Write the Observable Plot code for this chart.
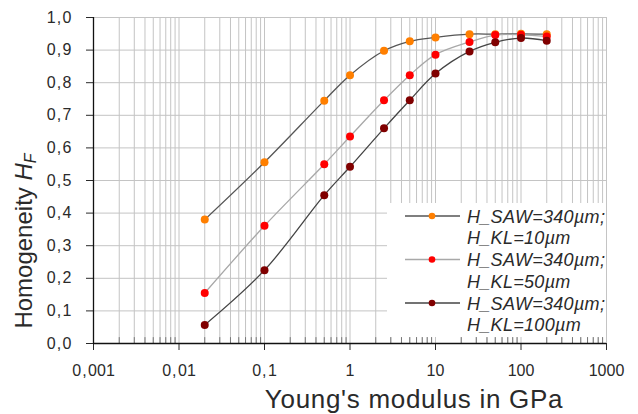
<!DOCTYPE html>
<html><head><meta charset="utf-8">
<script src="https://cdn.jsdelivr.net/npm/d3@7"></script>
<script src="https://cdn.jsdelivr.net/npm/@observablehq/plot@0.6"></script>
<style>
body{margin:0;background:#fff;font-family:"Liberation Sans",Arial,sans-serif}
#wrap{position:relative;width:638px;height:414px;overflow:hidden}
#legend{position:absolute;left:387px;top:203px;width:219px;height:134px;background:#fff}
</style></head><body><div id="wrap"><div id="legend"></div></div>
<script>
// Data
const youngModulus = [0.02, 0.1, 0.5, 1, 2.5, 5, 10, 25, 50, 100, 200];
const hKL10  = [0.380, 0.556, 0.745, 0.823, 0.898, 0.927, 0.939, 0.949, 0.949, 0.950, 0.949];
const hKL50  = [0.155, 0.361, 0.550, 0.635, 0.746, 0.823, 0.886, 0.925, 0.946, 0.947, 0.942];
const hKL100 = [0.057, 0.225, 0.455, 0.542, 0.660, 0.746, 0.828, 0.896, 0.924, 0.937, 0.929];
const seriesLabels = [
  ["H_SAW=340µm;", "H_KL=10µm"],
  ["H_SAW=340µm;", "H_KL=50µm"],
  ["H_SAW=340µm;", "H_KL=100µm"]
];
const markerColors = ["#ff7f00", "#ff0000", "#800000"];
const lineColors = ["#555555", "#a8a8a8", "#444444"];
const xTicks = [0.001, 0.01, 0.1, 1, 10, 100, 1000];
const xTickLabels = ["0,001", "0,01", "0,1", "1", "10", "100", "1000"];
const yTicks = [0, 0.1, 0.2, 0.3, 0.4, 0.5, 0.6, 0.7, 0.8, 0.9, 1.0];

const seriesValues = [hKL10, hKL50, hKL100];
const rows = [];
seriesValues.forEach((vals, s) => vals.forEach((v, i) => rows.push({s, x: youngModulus[i], y: v})));

// log grid positions (1..9 x 10^k)
const gridXs = [];
for (let k = -3; k < 3; k++) for (let m = 1; m <= 9; m++) gridXs.push(+(m * Math.pow(10, k)).toPrecision(3));
gridXs.push(1000);
const minorXs = gridXs.filter(v => !xTicks.includes(v));

const gridColor = "#c4c4c4";
const textColor = "#2a2a2a";
const chart = Plot.plot({
  width: 638,
  height: 414,
  marginLeft: 93,
  marginRight: 32,
  marginTop: 17,
  marginBottom: 71,
  style: {fontFamily: "'Liberation Sans', Arial, sans-serif", fontSize: "16px", color: textColor, background: "white", overflow: "visible"},
  x: {type: "log", domain: [0.001, 1000], ticks: xTicks, tickFormat: d => xTickLabels[xTicks.indexOf(d)] ?? "", tickSize: 7, tickPadding: 14, label: null},
  y: {domain: [0, 1], ticks: yTicks, tickFormat: d => d.toFixed(1).replace(".", ","), tickSize: 7, tickPadding: 15, label: null},
  marks: [
    Plot.ruleX(gridXs, {stroke: gridColor, strokeWidth: 1}),
    Plot.ruleY(yTicks, {stroke: gridColor, strokeWidth: 1}),
    Plot.ruleX(minorXs, {y1: 0, y2: 0.018, stroke: "#777", strokeWidth: 1}),
    Plot.ruleY([0], {stroke: "#111", strokeWidth: 1.3}),
    Plot.ruleX([0.001], {stroke: "#111", strokeWidth: 1.3}),
    Plot.line(rows, {x: "x", y: "y", z: "s", stroke: d => lineColors[d.s], curve: "catmull-rom", strokeWidth: 1.3}),
    Plot.dot(rows, {x: "x", y: "y", r: 4, fill: d => markerColors[d.s], stroke: "none"})
  ]
});
const wrap = document.getElementById("wrap");
wrap.insertBefore(chart, wrap.firstChild);

const svg = d3.select(chart);
// slightly wider decimal comma spacing, as in the reference rendering
svg.selectAll("text").filter(function () { return /^\d+,\d+$/.test(this.textContent); }).each(function () {
  const [a, b] = this.textContent.split(",");
  const t = d3.select(this);
  t.text(null);
  t.append("tspan").text(a);
  t.append("tspan").attr("dx", 1).text(",");
  t.append("tspan").attr("dx", 1.5).text(b);
});
// y-axis title
const yt = svg.append("text")
  .attr("transform", "translate(32,241) rotate(-90)")
  .attr("text-anchor", "middle")
  .attr("font-size", 24)
  .attr("fill", textColor);
yt.append("tspan").text("Homogeneity ");
yt.append("tspan").attr("font-style", "italic").text("H");
yt.append("tspan").attr("font-style", "italic").attr("font-size", 16).attr("dy", 4).text("F");
// x-axis title
svg.append("text")
  .attr("x", 414).attr("y", 408)
  .attr("text-anchor", "middle")
  .attr("font-size", 26)
  .attr("letter-spacing", 0.7)
  .attr("fill", textColor)
  .text("Young's modulus in GPa");

// legend
const lg = d3.select("#legend").append("svg").attr("width", 219).attr("height", 134)
  .style("font-family", "'Liberation Sans', Arial, sans-serif");
seriesLabels.forEach((lab, i) => {
  const cy = 13 + i * 43.5;
  lg.append("line").attr("x1", 18).attr("x2", 73).attr("y1", cy).attr("y2", cy)
    .attr("stroke", lineColors[i]).attr("stroke-width", 1.3);
  lg.append("circle").attr("cx", 45).attr("cy", cy).attr("r", 3.3).attr("fill", markerColors[i]);
  lab.forEach((t, j) => {
    lg.append("text").attr("x", 80).attr("y", cy + 6.5 + j * 21.7)
      .attr("font-size", 18).attr("font-style", "italic").attr("letter-spacing", 0.3).attr("fill", textColor).text(t);
  });
});
</script></body></html>
